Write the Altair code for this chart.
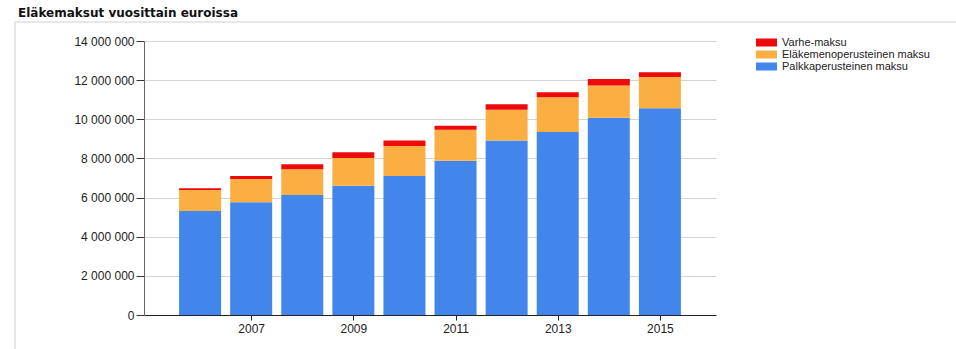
import altair as alt
import pandas as pd

vuodet = [2006, 2007, 2008, 2009, 2010, 2011, 2012, 2013, 2014, 2015]
palkkaperusteinen = [5310000, 5760000, 6130000, 6610000, 7100000, 7880000, 8910000, 9350000, 10080000, 10560000]
elakemenoperusteinen = [1080000, 1190000, 1320000, 1410000, 1540000, 1590000, 1580000, 1770000, 1640000, 1600000]
varhe = [80000, 150000, 250000, 290000, 270000, 200000, 280000, 260000, 340000, 240000]

sarjat = ["Varhe-maksu", "Eläkemenoperusteinen maksu", "Palkkaperusteinen maksu"]
varit = ["#EE0A0A", "#FBAF43", "#4286EC"]
y_ticks = [0, 2000000, 4000000, 6000000, 8000000, 10000000, 12000000, 14000000]
x_ticks = [2007, 2009, 2011, 2013, 2015]

rows = []
for i, v in enumerate(vuodet):
    rows.append({"vuosi": v, "sarja": "Palkkaperusteinen maksu", "arvo": palkkaperusteinen[i]})
    rows.append({"vuosi": v, "sarja": "Eläkemenoperusteinen maksu", "arvo": elakemenoperusteinen[i]})
    rows.append({"vuosi": v, "sarja": "Varhe-maksu", "arvo": varhe[i]})
df = pd.DataFrame(rows)

bars = alt.Chart(df).transform_calculate(
    jarj="indexof(['Palkkaperusteinen maksu','Eläkemenoperusteinen maksu','Varhe-maksu'], datum.sarja)"
).mark_bar(width=42).encode(
    x=alt.X("vuosi:Q", scale=alt.Scale(domain=[2005, 2016], nice=False, zero=False),
            axis=alt.Axis(values=x_ticks, format="d", title=None, grid=False,
                          domainColor="#222", tickColor="#222", tickSize=5,
                          labelPadding=3, labelFont="Liberation Sans", labelFontSize=12,
                          labelColor="#222")),
    y=alt.Y("arvo:Q", stack="zero", scale=alt.Scale(domain=[0, 14000000], nice=False),
            axis=alt.Axis(values=y_ticks, title=None, grid=True, gridColor="#d4d4d4",
                          labelExpr="replace(replace(format(datum.value, ','), ',', ' '), ',', ' ')",
                          domainColor="#666", tickColor="#333", tickSize=8, labelPadding=2,
                          labelFont="Liberation Sans", labelFontSize=12, labelColor="#222")),
    color=alt.Color("sarja:N", scale=alt.Scale(domain=sarjat, range=varit),
                    legend=alt.Legend(title=None, orient="none", legendX=617, legendY=-4,
                                      symbolType="M-2.625,-1H2.625V1H-2.625Z", symbolSize=64,
                                      symbolStrokeWidth=0, labelFont="Liberation Sans",
                                      labelFontSize=11, labelColor="#222", rowPadding=0,
                                      labelOffset=10, padding=0)),
    order=alt.Order("jarj:Q", sort="ascending"),
)

frame_v = alt.Chart(alt.Data(values=[{}])).mark_rule(color="#d0d0d0").encode(
    x=alt.value(-129), y=alt.value(-19), y2=alt.value(320))
frame_h = alt.Chart(alt.Data(values=[{}])).mark_rule(color="#d0d0d0").encode(
    x=alt.value(-129), x2=alt.value(820), y=alt.value(-19))

chart = alt.layer(frame_v, frame_h, bars).properties(
    width=572, height=274,
    autosize=alt.AutoSizeParams(type="none"),
    padding={"left": 144, "top": 41, "right": 240, "bottom": 34},
    title=alt.Title("Eläkemaksut vuosittain euroissa", anchor="start", frame="group",
                    dx=-126, font="DejaVu Sans", fontSize=12, fontWeight="bold",
                    color="#111", offset=2),
).configure_view(stroke=None)

chart.save("out.html", embed_options={"renderer": "svg", "actions": False})
